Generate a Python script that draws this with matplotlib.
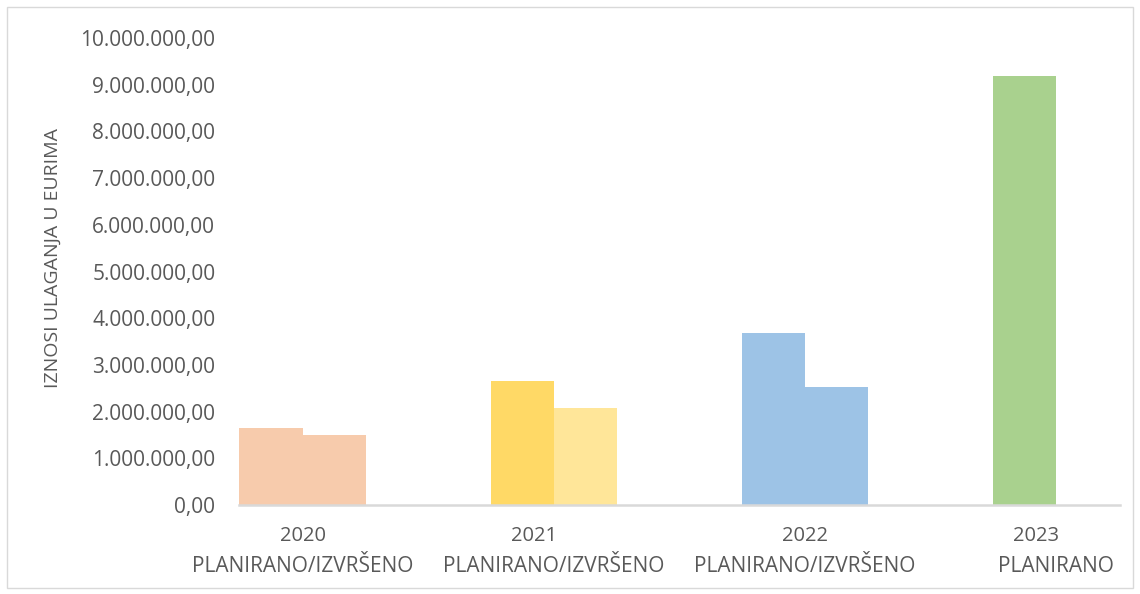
import matplotlib.pyplot as plt
from matplotlib.patches import Rectangle
from matplotlib.ticker import FuncFormatter

years = ["2020", "2021", "2022", "2023"]
kinds = ["PLANIRANO/IZVRŠENO", "PLANIRANO/IZVRŠENO", "PLANIRANO/IZVRŠENO", "PLANIRANO"]
planirano = [1650000, 2655000, 3680000, 9190000]
izvrseno = [1500000, 2080000, 2530000, 0]
plan_colors = ["#F7CBAC", "#FFD966", "#9DC3E6", "#A9D18E"]
izvr_colors = ["#F7CBAC", "#FFE699", "#9DC3E6", "#A9D18E"]

TEXT = "#595959"


def fmt_eur(v, pos=None):
    # 1234567.5 -> 1.234.567,50
    s = f"{v:,.2f}"
    return s.replace(",", "X").replace(".", ",").replace("X", ".")


fig = plt.figure(figsize=(11.4, 5.94), dpi=100)
fig.patches.append(Rectangle((0.006, 0.01), 0.988, 0.978, transform=fig.transFigure,
                             fill=False, edgecolor="#D9D9D9", linewidth=1))
ax = fig.add_axes([0.2096, 0.1498, 0.7729, 0.7862])

x = list(range(len(years)))
w = 0.252
ax.bar([i - w for i in x], planirano, width=w, align="edge", color=plan_colors, zorder=2)
ax.bar(x[:3], izvrseno[:3], width=w, align="edge", color=izvr_colors[:3], zorder=2)

ax.set_xlim(-0.254, 3.254)
ax.set_ylim(0, 10000000)
ax.set_yticks(range(0, 10000001, 1000000))
ax.yaxis.set_major_formatter(FuncFormatter(fmt_eur))

ax.set_xticks(x)
ax.set_xticklabels([])
for i in x:
    off = -0.08 if i in (1, 3) else 0.0
    ax.text(i + off, -0.045, years[i], transform=ax.get_xaxis_transform(), ha="center", va="top",
            fontsize=14.5, color=TEXT, family="Open Sans")
    ax.text(i, -0.11, kinds[i], transform=ax.get_xaxis_transform(), ha="center", va="top",
            fontsize=15, color=TEXT, family="Open Sans")

for s in ["top", "right", "left"]:
    ax.spines[s].set_visible(False)
ax.spines["bottom"].set_color("#D9D9D9")
ax.spines["bottom"].set_linewidth(1.8)
ax.tick_params(axis="both", length=0)
ax.tick_params(axis="y", pad=17)
for lab in ax.get_yticklabels():
    lab.set_fontsize(15)
    lab.set_color(TEXT)
    lab.set_family("Open Sans")

fig.text(0.046, 0.566, "IZNOSI ULAGANJA U EURIMA", rotation=90, ha="center", va="center",
         fontsize=14, color=TEXT, family="Open Sans")

fig.savefig("out.png", dpi=100)
